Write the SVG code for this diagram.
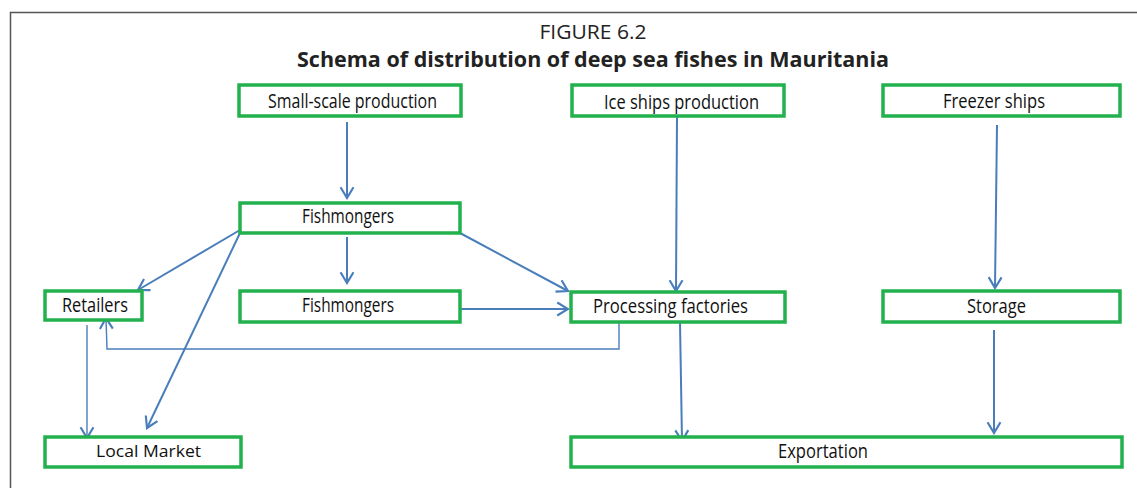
<svg xmlns="http://www.w3.org/2000/svg" width="1137" height="488" viewBox="0 0 1137 488">
  <style>
    .box { fill: #ffffff; stroke: #22b14c; stroke-width: 3.5; }
    .lbl { font-family: "Open Sans", "Noto Sans", sans-serif; font-size: 20px; fill: #111111; text-anchor: start; }
    .lbl2 { font-family: "Open Sans", "Noto Sans", sans-serif; font-size: 16px; fill: #111111; }
    .cap { font-family: "Open Sans", "Noto Sans", sans-serif; fill: #222222; }
    .c { fill: none; stroke: #4a7ebb; stroke-width: 2; marker-end: url(#arr); }
    .t { fill: none; stroke: #4a7ebb; stroke-width: 1.4; marker-end: url(#arr); }
  </style>
  <defs>
    <marker id="arr" markerUnits="userSpaceOnUse" markerWidth="14" markerHeight="16" viewBox="-11 -7 13 14" refX="0" refY="0" orient="auto">
      <path d="M-10,-6 L0,0 L-10,6" fill="none" stroke="#4a7ebb" stroke-width="2"/>
    </marker>
  </defs>

  <rect x="0" y="0" width="1137" height="488" fill="#ffffff"/>
  <!-- frame -->
  <path d="M10.5,488 L10.5,12.5 L1137,12.5" fill="none" stroke="#555555" stroke-width="1.5"/>

  <!-- heading -->
  <text class="cap" x="593" y="39" font-size="19.5" text-anchor="middle" textLength="107" lengthAdjust="spacingAndGlyphs">FIGURE 6.2</text>
  <text class="cap" x="297" y="67" font-size="21.5" font-weight="bold" textLength="592" lengthAdjust="spacingAndGlyphs">Schema of distribution of deep sea fishes in Mauritania</text>

  <!-- connectors -->
  <g id="connectors">
    <path class="c" d="M347,122 L347,198"/>
    <path class="c" d="M240,230 L138,290"/>
    <path class="c" d="M240,233 L147,428"/>
    <path class="c" d="M347,237 L347,283"/>
    <path class="c" d="M460,233 L568,291"/>
    <path class="c" d="M457,309 L568,309"/>
    <path class="t" d="M619,322 L619,349 L107,349 L106,318"/>
    <path class="t" d="M87,325 L87,438"/>
    <path class="c" d="M677,117 L676,291"/>
    <path class="c" d="M680,322 L682,441"/>
    <path class="c" d="M997,125 L995,288"/>
    <path class="c" d="M994,330 L994,433"/>
  </g>

  <!-- nodes -->
  <g id="small-scale">
    <rect class="box" x="239" y="85" width="222" height="31"/>
    <text class="lbl" x="268" y="108" font-size="18" textLength="169" lengthAdjust="spacingAndGlyphs">Small-scale production</text>
  </g>
  <g id="ice-ships">
    <rect class="box" x="572" y="85" width="212" height="31"/>
    <text class="lbl" x="604" y="109" textLength="155" lengthAdjust="spacingAndGlyphs">Ice ships production</text>
  </g>
  <g id="freezer-ships">
    <rect class="box" x="883" y="85" width="237" height="31"/>
    <text class="lbl" x="943" y="108" textLength="102" lengthAdjust="spacingAndGlyphs">Freezer ships</text>
  </g>
  <g id="fishmongers-1">
    <rect class="box" x="240" y="203" width="220" height="30"/>
    <text class="lbl" x="302" y="223" textLength="92" lengthAdjust="spacingAndGlyphs">Fishmongers</text>
  </g>
  <g id="retailers">
    <rect class="box" x="45" y="291" width="97" height="29"/>
    <text class="lbl" x="62" y="312" textLength="66" lengthAdjust="spacingAndGlyphs">Retailers</text>
  </g>
  <g id="fishmongers-2">
    <rect class="box" x="240" y="291" width="220" height="31"/>
    <text class="lbl" x="302" y="312" textLength="92" lengthAdjust="spacingAndGlyphs">Fishmongers</text>
  </g>
  <g id="processing">
    <rect class="box" x="571" y="292" width="214" height="30"/>
    <text class="lbl" x="593" y="313" textLength="155" lengthAdjust="spacingAndGlyphs">Processing factories</text>
  </g>
  <g id="storage">
    <rect class="box" x="883" y="291" width="237" height="31"/>
    <text class="lbl" x="967" y="313" textLength="59" lengthAdjust="spacingAndGlyphs">Storage</text>
  </g>
  <g id="local-market">
    <rect class="box" x="45" y="437" width="196" height="30"/>
    <text class="lbl2" x="96" y="457" textLength="105" lengthAdjust="spacingAndGlyphs">Local Market</text>
  </g>
  <g id="exportation">
    <rect class="box" x="571" y="437" width="551" height="30"/>
    <text class="lbl" x="778" y="458" textLength="90" lengthAdjust="spacingAndGlyphs">Exportation</text>
  </g>
</svg>
